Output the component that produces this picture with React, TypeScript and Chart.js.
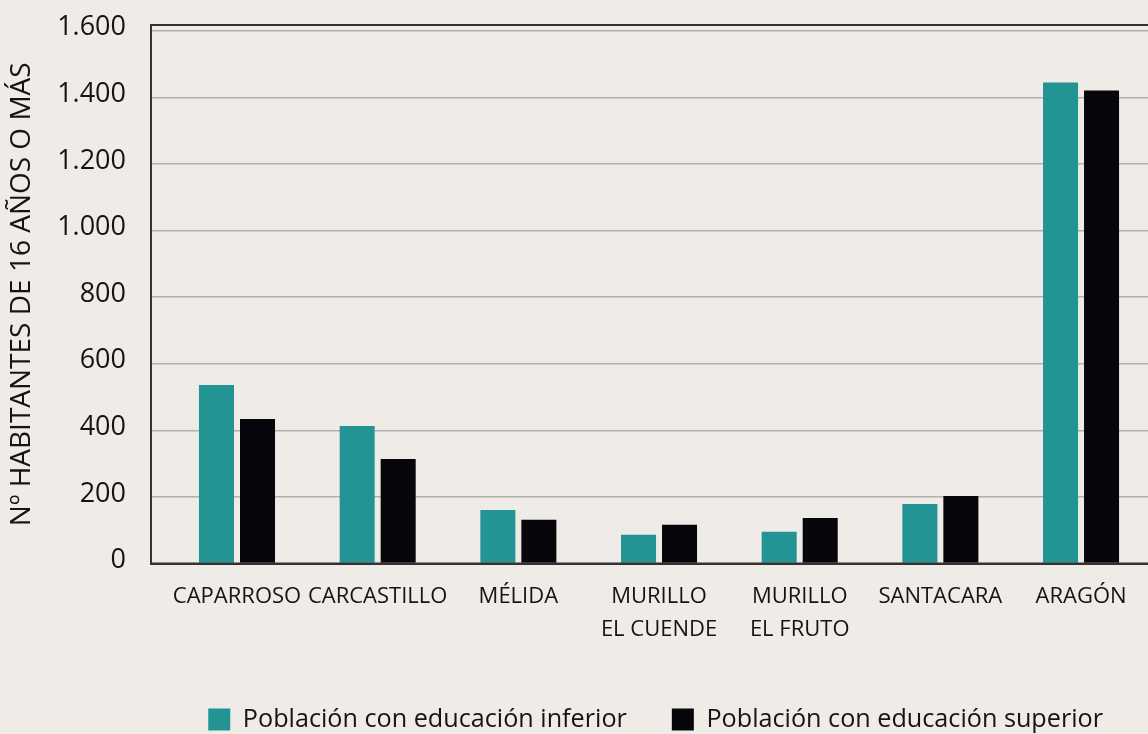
import React, { useEffect, useRef } from "react";
import { Chart, registerables } from "chart.js";

Chart.register(...registerables);

const categories: string[] = [
  "CAPARROSO",
  "CARCASTILLO",
  "MÉLIDA",
  "MURILLO\nEL CUENDE",
  "MURILLO\nEL FRUTO",
  "SANTACARA",
  "ARAGÓN",
];
const educacionInferior: number[] = [536, 413, 161, 86, 95, 179, 1444];
const educacionSuperior: number[] = [434, 314, 131, 116, 137, 203, 1420];
const seriesLabels: string[] = [
  "Población con educación inferior",
  "Población con educación superior",
];
const yTicks: number[] = [0, 200, 400, 600, 800, 1000, 1200, 1400, 1600];
const yTitle = "Nº HABITANTES DE 16 AÑOS O MÁS";

const BG = "#EFEBE7";
const TEAL = "#239494";
const BLACK = "#07060B";
const AXIS = "#333333";
const GRID = "#B3B0AD";
const TEXT = "#151314";
const FONT = "'Open Sans', 'DejaVu Sans', sans-serif";

const fmt = (v: number) =>
  String(v).replace(/\B(?=(\d{3})+(?!\d))/g, ".");

const topFrame = {
  id: "topFrame",
  afterDatasetsDraw(chart: any) {
    const { ctx, chartArea } = chart;
    ctx.save();
    ctx.strokeStyle = AXIS;
    ctx.lineWidth = 2;
    ctx.beginPath();
    ctx.moveTo(chartArea.left - 1, chartArea.top);
    ctx.lineTo(chartArea.right, chartArea.top);
    ctx.stroke();
    const y0 = chart.scales.y.getPixelForValue(0);
    ctx.beginPath();
    ctx.moveTo(chartArea.left - 1, y0);
    ctx.lineTo(chartArea.right, y0);
    ctx.stroke();
    ctx.restore();
  },
};

export default function App() {
  const ref = useRef<HTMLCanvasElement | null>(null);

  useEffect(() => {
    document.body.style.margin = "0";
    document.body.style.background = BG;
    document.body.style.overflow = "hidden";
    if (!ref.current) return;
    const chart = new Chart(ref.current, {
      type: "bar",
      data: {
        datasets: [
          {
            label: seriesLabels[0],
            data: educacionInferior.map((v, i) => ({ x: i, y: v })),
            backgroundColor: TEAL,
            borderWidth: 0,
          },
          {
            label: seriesLabels[1],
            data: educacionSuperior.map((v, i) => ({ x: i, y: v })),
            backgroundColor: BLACK,
            borderWidth: 0,
          },
        ],
      },
      plugins: [topFrame],
      options: {
        animation: false,
        responsive: false,
        maintainAspectRatio: false,
        layout: { padding: { top: 25, left: 0, right: 0, bottom: 0 } },
        datasets: {
          bar: { categoryPercentage: 0.583, barPercentage: 0.854 },
        },
        plugins: {
          tooltip: { enabled: false },
          legend: {
            position: "bottom",
            align: "end",
            labels: {
              boxWidth: 22,
              boxHeight: 22,
              padding: 45,
              color: TEXT,
              font: { family: FONT, size: 25.2 },
            },
          },
        },
        scales: {
          x: {
            type: "linear",
            offset: false,
            min: -0.6114,
            max: 6.476,
            afterFit: (scale: any) => {
              scale.height = 98.3;
            },
            grid: { display: false, drawTicks: false, offset: false },
            border: { display: true, color: AXIS, width: 2 },
            ticks: {
              stepSize: 1,
              includeBounds: false,
              autoSkip: false,
              maxRotation: 0,
              minRotation: 0,
              padding: 17,
              color: TEXT,
              font: { family: FONT, size: 22, lineHeight: 1.5 },
              callback: (value: any) => {
                const c = categories[Number(value)];
                return c ? c.split("\n") : "";
              },
            },
          },
          y: {
            min: 0,
            max: 1617,
            afterFit: (scale: any) => {
              scale.width = 151;
              scale.paddingTop = 0;
              scale.paddingBottom = 0;
            },
            afterBuildTicks: (scale: any) => {
              scale.ticks = yTicks.map((v) => ({ value: v }));
            },
            grid: { color: GRID, lineWidth: 1.5, drawTicks: false },
            border: { display: true, color: AXIS, width: 2 },
            ticks: {
              padding: 25,
              labelOffset: -3,
              color: TEXT,
              font: { family: FONT, size: 27 },
              callback: (value: any) => fmt(Number(value)),
            },
            title: {
              display: true,
              text: yTitle,
              color: TEXT,
              padding: { top: 5, bottom: 0 },
              font: { family: FONT, size: 28, lineHeight: 1.2 },
            },
          },
        },
      },
    } as any);
    return () => chart.destroy();
  }, []);

  return (
    <div style={{ width: 1148, height: 742, background: BG }}>
      <canvas ref={ref} width={1148} height={742} style={{ display: "block" }} />
    </div>
  );
}
